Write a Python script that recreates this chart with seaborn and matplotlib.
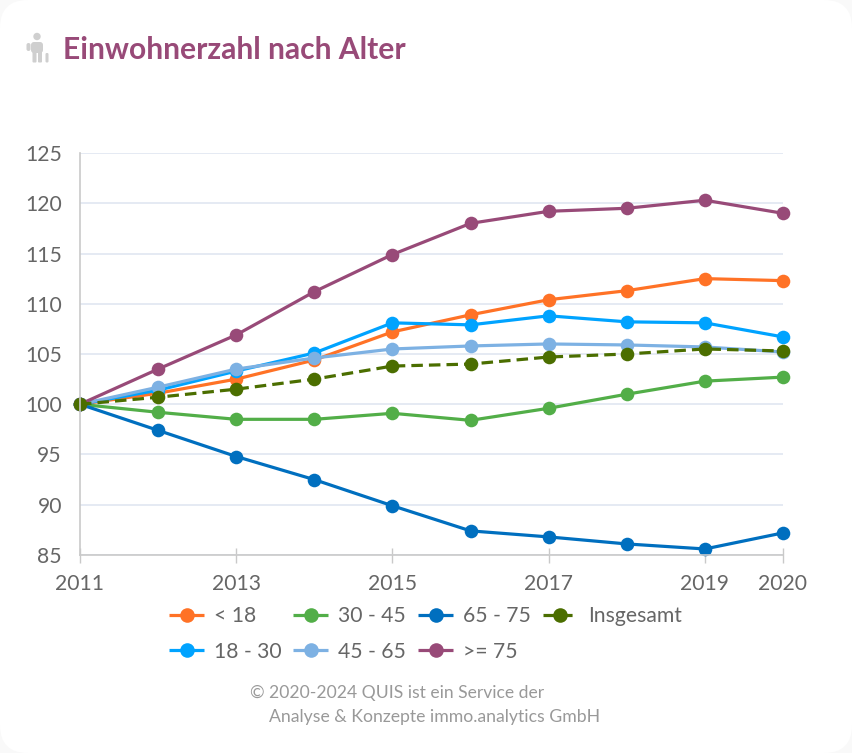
import matplotlib.pyplot as plt
import pandas as pd
import seaborn as sns
from matplotlib.patches import Circle, FancyBboxPatch

years = [2011, 2012, 2013, 2014, 2015, 2016, 2017, 2018, 2019, 2020]
under_18 = [100, 101.1, 102.5, 104.4, 107.2, 108.9, 110.4, 111.3, 112.5, 112.3]
from_18 = [100, 101.4, 103.3, 105.1, 108.1, 107.9, 108.8, 108.2, 108.1, 106.7]
from_30 = [100, 99.2, 98.5, 98.5, 99.1, 98.4, 99.6, 101.0, 102.3, 102.7]
from_45 = [100, 101.7, 103.5, 104.6, 105.5, 105.8, 106.0, 105.9, 105.7, 105.2]
from_65 = [100, 97.4, 94.8, 92.5, 89.9, 87.4, 86.8, 86.1, 85.6, 87.2]
over_75 = [100, 103.5, 106.9, 111.2, 114.9, 118.0, 119.2, 119.5, 120.3, 119.0]
total = [100, 100.7, 101.5, 102.5, 103.8, 104.0, 104.7, 105.0, 105.5, 105.3]

groups = ["< 18", "18 - 30", "30 - 45", "45 - 65", "65 - 75", ">= 75", "Insgesamt"]
colors = ["#ff7226", "#00a3ff", "#52ae48", "#7db1e3", "#006fbf", "#984a78", "#4b6e00"]
x_ticks = [2011, 2013, 2015, 2017, 2019, 2020]
y_ticks = [85, 90, 95, 100, 105, 110, 115, 120, 125]

series = [under_18, from_18, from_30, from_45, from_65, over_75, total]
df = pd.DataFrame({
    "year": years * len(groups),
    "value": sum(series, []),
    "group": [g for g in groups for _ in years],
})

sns.set_style("white")
plt.rcParams["font.family"] = ["Lato", "DejaVu Sans"]

W, H = 852, 753
fig = plt.figure(figsize=(W / 100, H / 100), dpi=100, facecolor="#f9f9f9")

# white card with round corners
bg = fig.add_axes([0, 0, 1, 1], zorder=0)
bg.set_xlim(0, W)
bg.set_ylim(H, 0)
bg.axis("off")
bg.add_patch(FancyBboxPatch((0, 0), W, H, boxstyle="round,pad=0,rounding_size=28",
                            fc="white", ec="none", clip_on=False))

# person icon
icon = "#cfcfcf"
bg.add_patch(Circle((37, 36.5), 3.7, fc=icon, ec="none"))
bg.add_patch(FancyBboxPatch((31, 42), 12, 11, boxstyle="round,pad=0,rounding_size=3", fc=icon, ec="none"))
bg.add_patch(FancyBboxPatch((26.5, 43), 4, 8, boxstyle="round,pad=0,rounding_size=2", fc=icon, ec="none"))
bg.add_patch(FancyBboxPatch((32.5, 51), 4, 11.5, boxstyle="round,pad=0,rounding_size=1", fc=icon, ec="none"))
bg.add_patch(FancyBboxPatch((38, 51), 4, 11.5, boxstyle="round,pad=0,rounding_size=1", fc=icon, ec="none"))
bg.add_patch(FancyBboxPatch((45.5, 53), 3, 9.5, boxstyle="round,pad=0,rounding_size=1.2", fc=icon, ec="none"))
bg.text(63, 50, "Einwohnerzahl nach Alter", color="#984a78", fontsize=21.6, fontweight="bold",
        va="center", ha="left")
bg.text(249, 693, "©", color="#999999", fontsize=12.7, va="center")
bg.text(269, 693, "2020-2024 QUIS ist ein Service der", color="#999999", fontsize=12.6, va="center")
bg.text(269, 717, "Analyse & Konzepte immo.analytics GmbH", color="#999999", fontsize=12.7, va="center")

ax = fig.add_axes([80 / W, 1 - 555 / H, (783 - 80) / W, (555 - 153) / H], zorder=1)
ax.patch.set_alpha(0)
sns.lineplot(data=df, x="year", y="value", hue="group", style="group", hue_order=groups, style_order=groups,
             palette=colors, markers=["o"] * len(groups),
             dashes=[(1, 0)] * 6 + [(3.6, 1.9)], linewidth=2.3, markersize=9.8, markeredgewidth=0,
             errorbar=None, ax=ax, clip_on=False)

ax.set_xlim(2011, 2020)
ax.set_ylim(85, 125)
ax.set_xticks(x_ticks)
ax.set_yticks(y_ticks)
ax.set_xlabel("")
ax.set_ylabel("")
ax.grid(axis="y", color="#e0e6f1", linewidth=1.2)
ax.set_axisbelow(True)
sns.despine(ax=ax)
for side in ["left", "bottom"]:
    ax.spines[side].set_color("#c9c9c9")
    ax.spines[side].set_linewidth(1.2)
ax.tick_params(axis="x", direction="inout", length=10.8, width=1, color="#c9c9c9", labelsize=15.2,
               labelcolor="#666666", pad=8, bottom=True)
ax.tick_params(axis="y", length=0, labelsize=15.2, labelcolor="#666666", pad=13)

handles, labels = ax.get_legend_handles_labels()
leg = ax.legend(handles, labels, ncol=4, frameon=False, fontsize=15.2, labelcolor="#666666",
                handlelength=1.66, handletextpad=0.47, columnspacing=0.56, labelspacing=0.72,
                loc="upper left", bbox_to_anchor=(0.1266, -0.128), borderpad=0, borderaxespad=0)
for h in leg.legend_handles:
    h.set_markersize(10.5)

fig.savefig("out.png", dpi=100, facecolor=fig.get_facecolor())
